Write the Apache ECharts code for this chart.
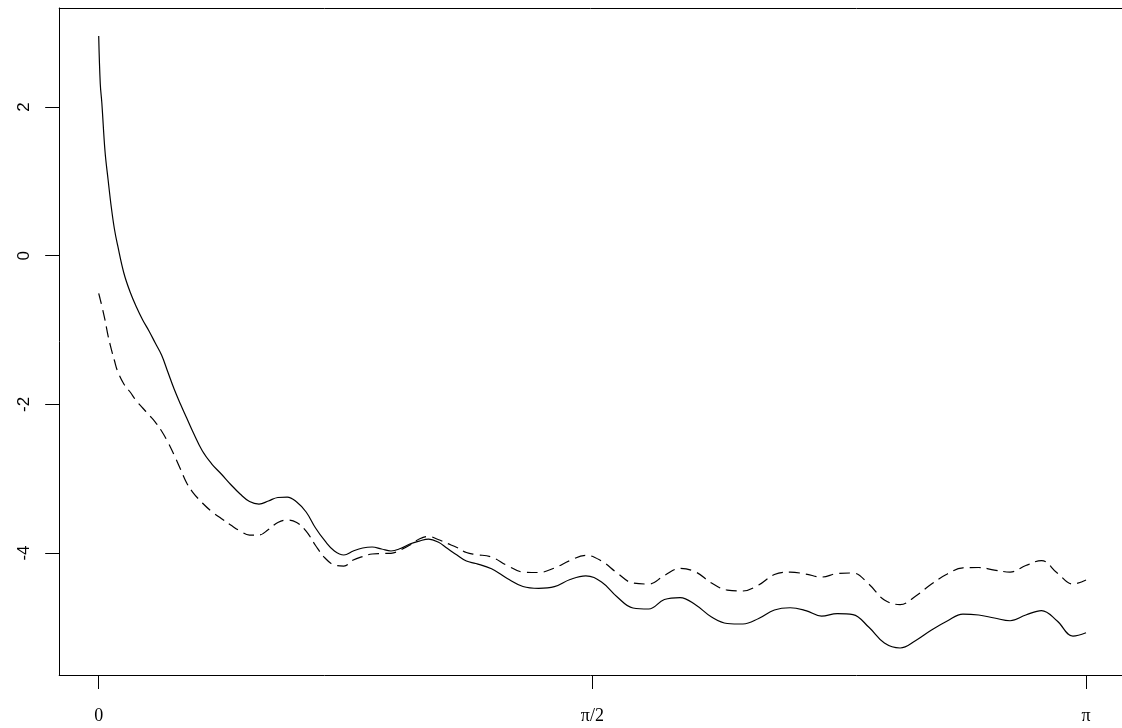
<!DOCTYPE html>
<html>
<head>
<meta charset="utf-8">
<script src="https://cdn.jsdelivr.net/npm/echarts@6/dist/echarts.min.js"></script>
<style>
  html, body { margin: 0; padding: 0; background: #fff; }
  #chart { width: 1122px; height: 728px; }
</style>
</head>
<body>
<div id="chart"></div>
<script>
// Angle (radians) at which both curves are sampled
const tValues = [
  0, 0.005, 0.01, 0.02, 0.03, 0.04, 0.05, 0.06, 0.08, 0.10,
  0.12, 0.14, 0.16, 0.18, 0.20, 0.22, 0.24, 0.26, 0.28, 0.30,
  0.33, 0.36, 0.39, 0.42, 0.45, 0.48, 0.51, 0.54, 0.57, 0.60,
  0.63, 0.66, 0.69, 0.72, 0.75, 0.78, 0.81, 0.84, 0.87, 0.90,
  0.93, 0.96, 0.99, 1.02, 1.05, 1.08, 1.11, 1.14, 1.17, 1.20,
  1.25, 1.30, 1.35, 1.40, 1.45, 1.50, 1.55, 1.60, 1.65, 1.70,
  1.75, 1.80, 1.85, 1.90, 1.95, 2.00, 2.05, 2.10, 2.15, 2.20,
  2.25, 2.30, 2.35, 2.40, 2.45, 2.50, 2.55, 2.60, 2.65, 2.70,
  2.75, 2.80, 2.85, 2.90, 2.95, 3.00, 3.05, 3.10, 3.1416
];

// Solid curve
const solidValues = [
  2.955, 2.310, 2.054, 1.408, 1.018, 0.655, 0.359, 0.144, -0.233, -0.489,
  -0.691, -0.865, -1.013, -1.175, -1.336, -1.565, -1.794, -1.995, -2.184, -2.372,
  -2.628, -2.803, -2.937, -3.078, -3.206, -3.307, -3.341, -3.300, -3.253, -3.247,
  -3.314, -3.448, -3.664, -3.838, -3.973, -4.027, -3.973, -3.933, -3.919, -3.946,
  -3.973, -3.940, -3.879, -3.839, -3.812, -3.852, -3.940, -4.027, -4.108, -4.141,
  -4.212, -4.343, -4.450, -4.475, -4.453, -4.356, -4.307, -4.390, -4.592, -4.740,
  -4.753, -4.626, -4.599, -4.700, -4.861, -4.948, -4.955, -4.881, -4.767, -4.736,
  -4.774, -4.848, -4.814, -4.828, -4.996, -5.211, -5.278, -5.177, -5.036, -4.915,
  -4.821, -4.834, -4.874, -4.911, -4.834, -4.774, -4.915, -5.117, -5.072
];

// Dashed curve
const dashedValues = [
  -0.506, -0.590, -0.677, -0.865, -1.081, -1.256, -1.410, -1.552, -1.726, -1.834,
  -1.955, -2.049, -2.143, -2.238, -2.359, -2.507, -2.681, -2.870, -3.058, -3.186,
  -3.327, -3.444, -3.536, -3.623, -3.704, -3.758, -3.758, -3.684, -3.590, -3.556,
  -3.590, -3.704, -3.899, -4.067, -4.161, -4.175, -4.094, -4.047, -4.013, -4.007,
  -4.004, -3.960, -3.893, -3.812, -3.778, -3.818, -3.872, -3.926, -3.993, -4.020,
  -4.054, -4.168, -4.256, -4.262, -4.202, -4.101, -4.031, -4.108, -4.269, -4.404,
  -4.417, -4.303, -4.206, -4.256, -4.404, -4.498, -4.511, -4.430, -4.289, -4.256,
  -4.283, -4.323, -4.276, -4.269, -4.417, -4.632, -4.693, -4.578, -4.417, -4.283,
  -4.199, -4.195, -4.229, -4.256, -4.168, -4.101, -4.269, -4.417, -4.363
];

// Axis ticks
const xTickValues = [0, Math.PI / 2, Math.PI];
const xTickLabels = ['0', 'π/2', 'π'];
const yTickValues = [-4, -2, 0, 2];
const yTickLabels = ['-4', '-2', '0', '2'];

// Plot ranges: 4% padding on the left; the frame runs on past the right edge of the page
const xMin = -0.1257, xMax = 3.2561;
const yMin = -5.641, yMax = 3.332;

function labelFor(values, labels, v) {
  for (let i = 0; i < values.length; i++) {
    if (Math.abs(values[i] - v) < 1e-6) return labels[i];
  }
  return '';
}

const frameLine = { show: true, onZero: false, lineStyle: { color: '#000', width: 1 } };

const chart = echarts.init(document.getElementById('chart'), null, { renderer: 'canvas' });

chart.setOption({
  animation: false,
  backgroundColor: '#ffffff',
  grid: {
    show: false,
    left: 59.2,
    top: 8,
    right: 0,
    bottom: 53,
    containLabel: false
  },
  xAxis: [
    {
      type: 'value',
      position: 'bottom',
      min: xMin,
      max: xMax,
      axisLine: frameLine,
      splitLine: { show: false },
      axisTick: {
        show: true,
        customValues: xTickValues,
        length: 14,
        lineStyle: { color: '#000', width: 1 }
      },
      axisLabel: {
        customValues: xTickValues,
        formatter: v => labelFor(xTickValues, xTickLabels, v),
        fontFamily: '"Liberation Serif", "DejaVu Serif", serif',
        fontSize: 18,
        color: '#000',
        margin: 32
      }
    },
    {
      type: 'value',
      position: 'top',
      min: xMin,
      max: xMax,
      axisLine: frameLine,
      splitLine: { show: false },
      axisTick: { show: false },
      axisLabel: { show: false }
    }
  ],
  yAxis: {
    type: 'value',
    min: yMin,
    max: yMax,
    axisLine: frameLine,
    splitLine: { show: false },
    axisTick: {
      show: true,
      customValues: yTickValues,
      length: 14,
      lineStyle: { color: '#000', width: 1 }
    },
    axisLabel: {
      customValues: yTickValues,
      formatter: v => labelFor(yTickValues, yTickLabels, v),
      rotate: 90,
      fontFamily: '"Liberation Sans", Arial, sans-serif',
      fontSize: 17,
      color: '#000',
      margin: 26
    }
  },
  series: [
    {
      name: 'solid',
      type: 'line',
      xAxisIndex: 0,
      data: tValues.map((t, i) => [t, solidValues[i]]),
      showSymbol: false,
      smooth: 0.4,
      lineStyle: { color: '#000', width: 1.2, type: 'solid' }
    },
    {
      name: 'dashed',
      type: 'line',
      xAxisIndex: 0,
      data: tValues.map((t, i) => [t, dashedValues[i]]),
      showSymbol: false,
      smooth: 0.4,
      lineStyle: { color: '#000', width: 1.2, type: [11, 6] }
    }
  ]
});
</script>
</body>
</html>
